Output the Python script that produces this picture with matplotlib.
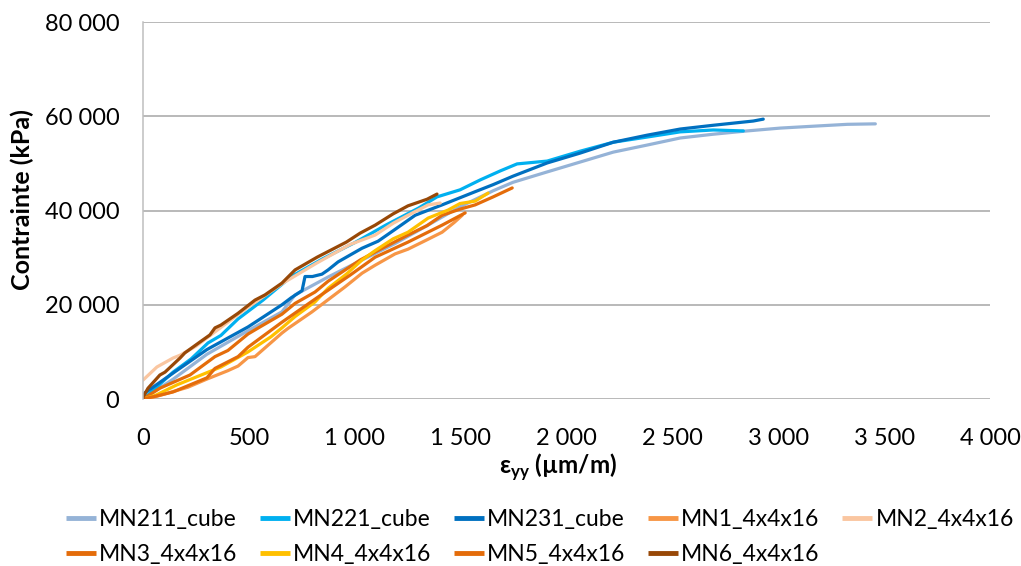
import matplotlib
matplotlib.use('Agg')
import matplotlib.pyplot as plt
from matplotlib.ticker import FuncFormatter, MultipleLocator

plt.rcParams['font.family'] = ['Lato', 'DejaVu Sans']
plt.rcParams['mathtext.fontset'] = 'custom'
plt.rcParams['mathtext.bf'] = 'Lato:bold'
plt.rcParams['mathtext.rm'] = 'Lato'

# strain (µm/m) and stress (x1000 kPa)
mn211_x = [0, 142, 302, 496, 656, 718, 874, 1034, 1190, 1341, 1497, 1653, 1747, 1908, 2064,
           2220, 2380, 2536, 2692, 2852, 3008, 3164, 3325, 3457]
mn211_y = [0, 4.2, 9.5, 14.5, 18.5, 22.1, 25.9, 29.5, 33.0, 36.8, 40.8, 44.2, 46.0, 48.2, 50.3,
           52.4, 53.9, 55.4, 56.2, 56.9, 57.5, 57.9, 58.3, 58.4]

mn221_x = [0, 40, 142, 227, 307, 368, 449, 567, 700, 850, 1000, 1150, 1300, 1388, 1497, 1592,
           1686, 1766, 1908, 2064, 2220, 2380, 2536, 2692, 2834]
mn221_y = [0, 1.5, 5.7, 8.5, 11.9, 13.5, 17.0, 21.0, 26.0, 29.8, 33.2, 37.0, 40.5, 42.9, 44.4, 46.5,
           48.4, 49.9, 50.5, 52.6, 54.5, 55.6, 56.7, 57.1, 56.9]

mn231_x = [0, 9, 142, 302, 496, 656, 700, 751, 765, 800, 845, 874, 921, 1034, 1110, 1190, 1285,
           1412, 1568, 1653, 1747, 1908, 2064, 2220, 2380, 2536, 2692, 2881, 2928]
mn231_y = [0, 1.3, 5.5, 10.5, 15.3, 20.0, 21.5, 23.0, 26.0, 26.0, 26.5, 27.4, 29.1, 32.0, 33.5, 36.0, 39.0,
           41.2, 44.0, 45.5, 47.3, 50.1, 52.2, 54.5, 56.0, 57.3, 58.1, 59.0, 59.4]

mn1_x = [0, 60, 212, 300, 400, 449, 496, 529, 656, 685, 798, 954, 1034, 1096, 1190, 1251, 1341,
         1412, 1470, 1507]
mn1_y = [0, 0.5, 2.5, 4.2, 6.0, 7.0, 8.8, 9.0, 14.0, 15.0, 18.5, 23.8, 26.7, 28.4, 30.8, 31.8, 33.8,
         35.4, 37.5, 39.0]

mn2_x = [0, 66, 142, 175, 250, 350, 496, 661, 822, 978, 1096, 1181, 1251, 1346, 1403]
mn2_y = [4.0, 6.8, 8.7, 9.3, 11.2, 14.6, 19.5, 24.6, 28.9, 32.8, 34.8, 37.3, 39.0, 41.2, 41.6]

mn3_x = [0, 80, 222, 340, 401, 496, 560, 656, 718, 812, 874, 1025, 1096, 1251, 1341, 1412, 1497,
         1568, 1653, 1743]
mn3_y = [0, 2.3, 5.1, 9.0, 10.3, 13.8, 15.5, 18.0, 20.3, 22.7, 25.0, 29.5, 31.2, 34.8, 36.8, 39.0, 40.3,
         41.2, 42.9, 44.8]

mn4_x = [0, 60, 160, 368, 496, 604, 656, 718, 812, 874, 960, 1034, 1096, 1181, 1251, 1346, 1440,
         1497, 1568, 1629]
mn4_y = [0, 0.8, 3.0, 6.8, 10.0, 13.2, 15.1, 17.5, 20.6, 23.5, 26.5, 29.5, 31.5, 34.0, 35.4, 38.4, 40.1,
         41.5, 42.0, 43.7]

mn5_x = [0, 50, 142, 302, 340, 449, 496, 656, 822, 978, 1096, 1251, 1412, 1521]
mn5_y = [0, 0.5, 1.5, 4.5, 6.5, 9.0, 11.0, 16.3, 21.5, 26.3, 30.1, 33.3, 36.9, 39.5]

mn6_x = [0, 0, 24, 80, 104, 175, 198, 269, 316, 340, 368, 449, 529, 576, 656, 718, 822, 960, 1025,
         1096, 1181, 1251, 1341, 1388]
mn6_y = [0, 0.4, 2.3, 5.1, 5.7, 8.7, 9.8, 12.1, 13.6, 15.1, 15.7, 18.2, 21.0, 22.1, 24.6, 27.4, 30.1,
         33.3, 35.2, 36.9, 39.3, 41.0, 42.4, 43.5]

series = [
    ('MN211_cube', mn211_x, mn211_y, '#95B3D7'),
    ('MN221_cube', mn221_x, mn221_y, '#00B0F0'),
    ('MN231_cube', mn231_x, mn231_y, '#0070C0'),
    ('MN1_4x4x16', mn1_x, mn1_y, '#F79646'),
    ('MN2_4x4x16', mn2_x, mn2_y, '#FAC6A0'),
    ('MN3_4x4x16', mn3_x, mn3_y, '#E46C0A'),
    ('MN4_4x4x16', mn4_x, mn4_y, '#FFC000'),
    ('MN5_4x4x16', mn5_x, mn5_y, '#E46C0A'),
    ('MN6_4x4x16', mn6_x, mn6_y, '#984807'),
]

fig = plt.figure(figsize=(10.21, 5.66), dpi=100)
ax = fig.add_axes([0.140, 0.295, 0.830, 0.666])

lines = []
for name, xs, ys, col in series:
    ln, = ax.plot(xs, [v * 1000 for v in ys], color=col, lw=2.3, label=name,
                  solid_capstyle='round', solid_joinstyle='round')
    lines.append(ln)

ax.set_xlim(0, 4000)
ax.set_ylim(0, 80000)
ax.xaxis.set_major_locator(MultipleLocator(500))
ax.yaxis.set_major_locator(MultipleLocator(20000))
fmt = FuncFormatter(lambda v, p: f'{v:,.0f}'.replace(',', ' '))
ax.xaxis.set_major_formatter(fmt)
ax.yaxis.set_major_formatter(fmt)
ax.tick_params(length=0, labelsize=17, colors='black')
ax.tick_params(axis='y', pad=17)
ax.tick_params(axis='x', pad=21)

ax.grid(axis='y', color='#A6A6A6', lw=1.1)
ax.set_axisbelow(True)
for s in ['top', 'right', 'bottom']:
    ax.spines[s].set_visible(False)
ax.spines['left'].set_color('#BFBFBF')
ax.spines['left'].set_linewidth(1.1)

ax.set_ylabel('Contrainte (kPa)', fontsize=18, fontweight='bold')
ax.yaxis.set_label_coords(-0.128, 0.528)
ax.set_xlabel(r'ε$_\mathbf{yy}$ (µm/m)', fontsize=17.5, fontweight='bold')
ax.xaxis.set_label_coords(0.49, -0.14)

# row-major legend order (matplotlib fills columns first)
order = [0, 5, 1, 6, 2, 7, 3, 8, 4]
leg = fig.legend([lines[i] for i in order], [series[i][0] for i in order],
                 loc='upper left', bbox_to_anchor=(0.0556, 0.117), ncol=5, frameon=False,
                 fontsize=16.5, handlelength=1.3, handletextpad=0.15, columnspacing=0.98,
                 labelspacing=0.6, borderaxespad=0)
for h in leg.legend_handles:
    h.set_linewidth(3.5)
    h.set_solid_capstyle('butt')

fig.savefig('out.png', dpi=100)
